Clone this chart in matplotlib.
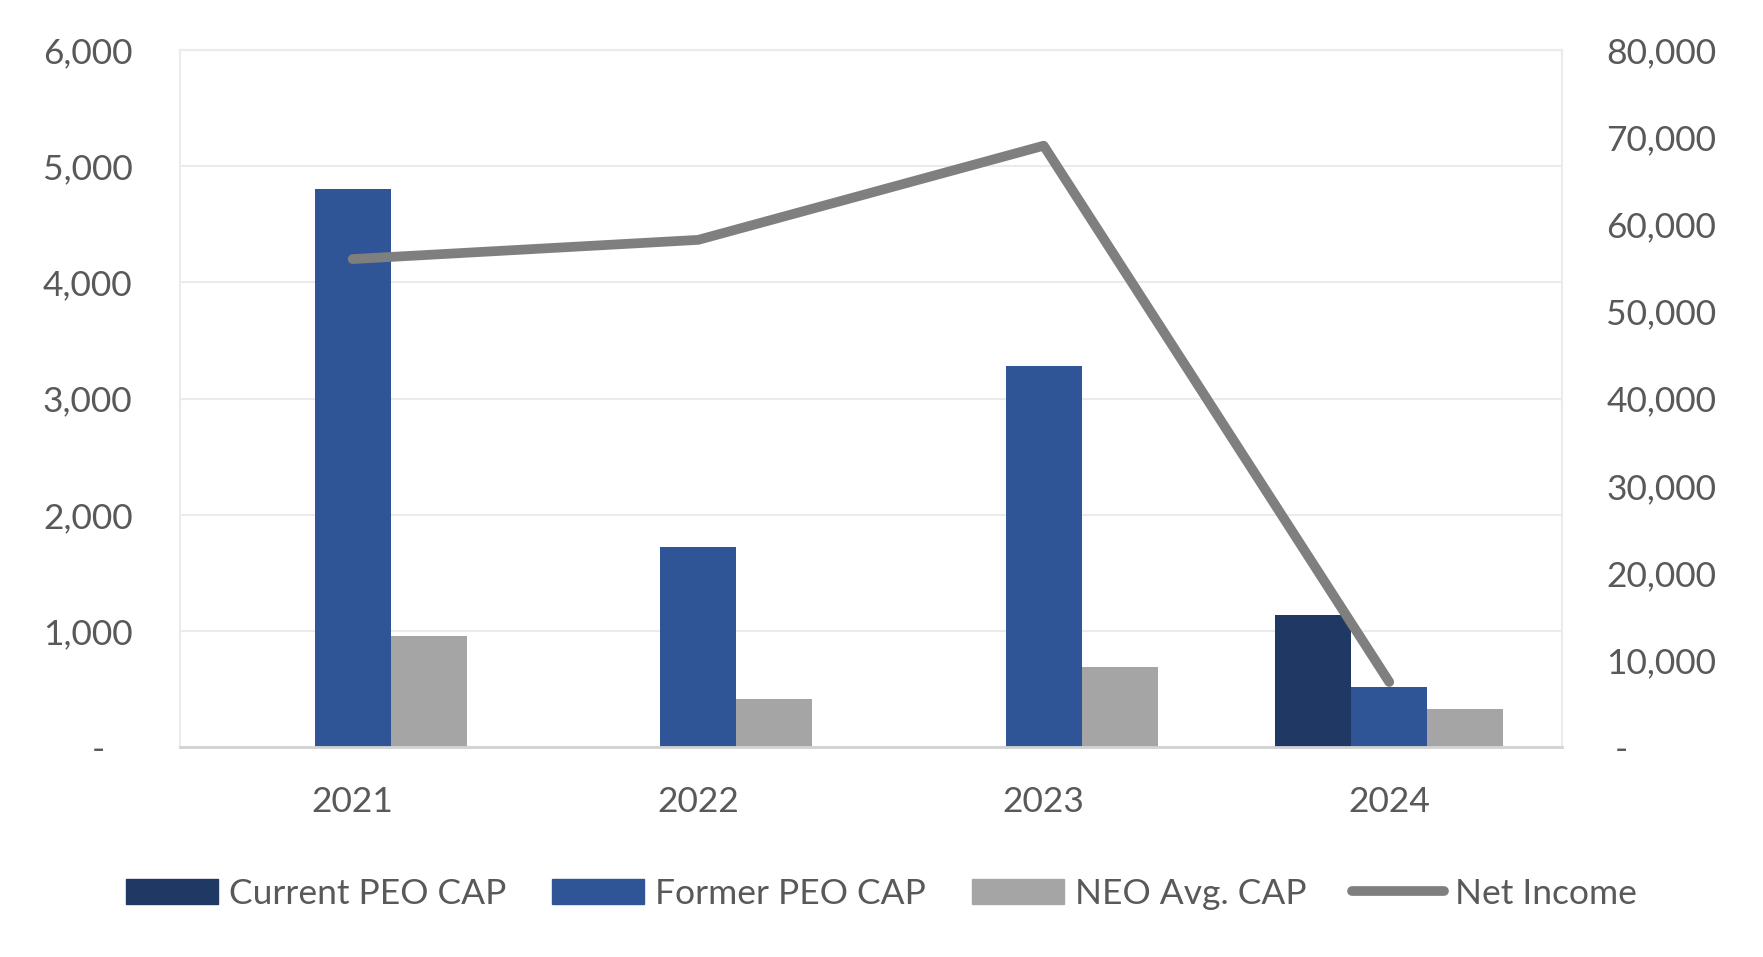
import matplotlib
matplotlib.use("Agg")
import matplotlib.pyplot as plt
import numpy as np
from matplotlib.lines import Line2D
from matplotlib.patches import Patch

years = ["2021", "2022", "2023", "2024"]
current_peo_cap = [0, 0, 0, 1140]
former_peo_cap = [4800, 1720, 3280, 520]
neo_avg_cap = [960, 420, 690, 330]
net_income = [56000, 58200, 69000, 7500]

left_ticks = [0, 1000, 2000, 3000, 4000, 5000, 6000]
left_labels = ["-   ", "1,000", "2,000", "3,000", "4,000", "5,000", "6,000"]
right_ticks = [0, 10000, 20000, 30000, 40000, 50000, 60000, 70000, 80000]
right_labels = [" -", "10,000", "20,000", "30,000", "40,000", "50,000", "60,000", "70,000", "80,000"]

c_cur = "#203864"
c_for = "#2F5597"
c_neo = "#A5A5A5"
c_line = "#7F7F7F"
txt = "#595959"

plt.rcParams['font.family'] = ['Lato', 'DejaVu Sans']
fs = 25.5

fig = plt.figure(figsize=(17.63, 9.57), dpi=100)
ax = fig.add_axes([0.102, 0.219, 0.784, 0.729])
ax2 = ax.twinx()

x = np.arange(len(years))
w = 0.22
ax.bar(x - w, current_peo_cap, w, color=c_cur, zorder=3)
ax.bar(x, former_peo_cap, w, color=c_for, zorder=3)
ax.bar(x + w, neo_avg_cap, w, color=c_neo, zorder=3)
ax2.plot(x, net_income, color=c_line, lw=7, solid_capstyle='round', solid_joinstyle='round', zorder=4)

ax.set_xlim(-0.5, 3.5)
ax.set_ylim(0, 6000)
ax2.set_ylim(0, 80000)
ax.set_yticks(left_ticks)
ax.set_yticklabels(left_labels)
ax2.set_yticks(right_ticks)
ax2.set_yticklabels(right_labels, ha='left')
ax.set_xticks(x)
ax.set_xticklabels(years)

ax.grid(axis='y', color='#EBEBEB', lw=1.5, zorder=0)
ax.set_axisbelow(True)
for a in (ax, ax2):
    for s in a.spines.values():
        s.set_color('#EBEBEB')
        s.set_linewidth(1.5)
    a.spines['bottom'].set_color('#D4D4D4')
    a.spines['bottom'].set_linewidth(2)
ax.tick_params(axis='y', length=0, pad=34, labelsize=fs, labelcolor=txt)
ax2.tick_params(axis='y', length=0, pad=32, labelsize=fs, labelcolor=txt)
ax.tick_params(axis='x', length=0, pad=28, labelsize=fs, labelcolor=txt)

handles = [Patch(color=c_cur), Patch(color=c_for), Patch(color=c_neo),
           Line2D([], [], color=c_line, lw=7, solid_capstyle='round')]
labels = ["Current PEO CAP", "Former PEO CAP", "NEO Avg. CAP", "Net Income"]
fig.legend(handles, labels, loc='center', bbox_to_anchor=(0.5, 0.066), ncol=4,
           frameon=False, fontsize=fs, labelcolor=txt, handlelength=2.6,
           handleheight=0.75, handletextpad=0.3, columnspacing=1.3)

fig.savefig("out.png", dpi=100)
